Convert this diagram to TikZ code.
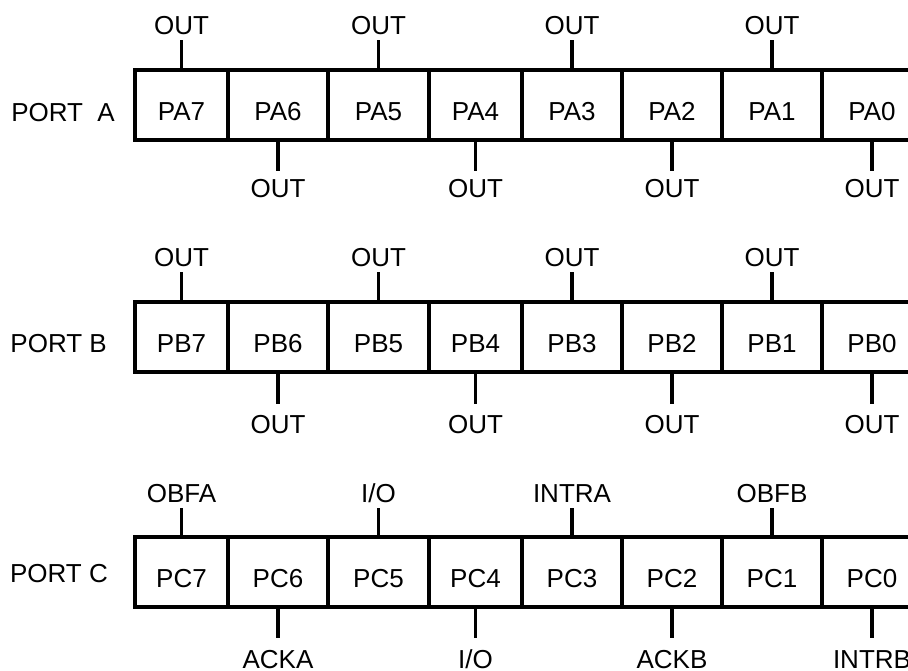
\documentclass[tikz,border=0pt]{standalone}
\usepackage{fontspec}
\setmainfont{Liberation Sans}
\begin{document}
\begin{tikzpicture}[x=1pt,y=-1pt,
  txt/.style={font=\fontsize{26}{31}\selectfont},
  cell/.style={txt, draw, line width=3.4pt, rectangle, minimum height=70pt,
    inner sep=0pt, text height=30.6pt, text depth=0pt},
  pin/.style={txt, inner sep=0pt, text height=18.6pt, text depth=0pt},
  stub/.style={line width=3.6pt},
  portname/.style={txt, inner sep=0pt, text height=18.6pt, text depth=0pt, anchor=east}
]
\useasboundingbox (0,0) rectangle (908,671);
\clip (0,0) rectangle (908,671);

% port names
\node[portname] (pA) at (115,112) {PORT\ \ A};
\node[portname] (pB) at (107,343) {PORT B};
\node[portname] (pC) at (108,573) {PORT C};

% rows: name / port letter / top edge / upper pin centre / lower pin centre / lower gap
\foreach \row/\P/\ytop/\ytl/\ybl/\gap in {a/A/70/25/188/7.5, b/B/302/257/424/10.5, c/C/537/493/659/12}{
  \foreach \b/\x/\w/\lc in {7/181.5/93/OBFA, 6/278/100/ACKA, 5/378.5/101/I\slash O,
                            4/475.5/93/I\slash O, 3/572/100/INTRA, 2/672/100/ACKB,
                            1/772/100/OBFB, 0/872/100/INTRB}{
    \node[cell, minimum width=\w pt] (\row\b) at (\x,\ytop+35) {P\P\b};
    \ifodd\b
      \node[pin, outer ysep=5.5pt] (l\row\b) at (\x,\ytl) {\if\row c\lc\else OUT\fi};
      \draw[stub] (\row\b.north) -- (l\row\b.south);
    \else
      \node[pin, outer ysep=\gap pt] (l\row\b) at (\x,\ybl) {\if\row c\lc\else OUT\fi};
      \draw[stub] (\row\b.south) -- (l\row\b.north);
    \fi
  }
}
\end{tikzpicture}
\end{document}
